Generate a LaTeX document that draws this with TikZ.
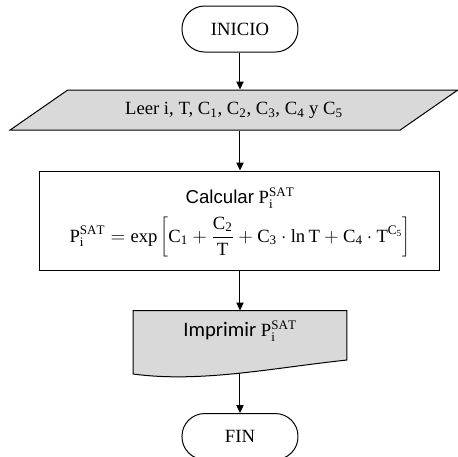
\documentclass[tikz,border=0pt]{standalone}
\usepackage{fontspec}
\setmainfont{Liberation Serif}
\newfontfamily\arialf{Liberation Sans}
\newfontfamily\calibrif{Carlito}
\usetikzlibrary{positioning, arrows.meta, shapes.geometric, backgrounds}
\definecolor{boxgray}{HTML}{D9D9D9}

\begin{document}
\begin{tikzpicture}[
  node distance=30pt,
  font=\fontsize{14}{16}\selectfont,
  term/.style={rectangle, draw, line width=0.75pt, rounded corners=17pt,
               minimum width=87pt, minimum height=34.5pt},
  inbox/.style={trapezium, trapezium left angle=23.5, trapezium right angle=156.5,
                trapezium stretches=true, draw, line width=0.75pt, fill=boxgray,
                minimum width=336pt, minimum height=30pt, inner sep=0pt},
  proc/.style={rectangle, draw, line width=0.75pt, minimum width=300pt,
               minimum height=74.25pt, align=center},
  outbox/.style={rectangle, minimum width=159.75pt, inner ysep=0pt,
                 text height=19.5pt, text depth=17.25pt},
  arr/.style={-{Triangle[length=6pt, width=5.5pt]}, line width=0.75pt}
]
  \useasboundingbox (-180pt,21.75pt) rectangle (163.5pt,-321pt);

  \node[term] (inicio) {INICIO};
  \node[inbox, below=27.75pt of inicio, xshift=-4.5pt] (leer)
    {Leer i, T, C\textsubscript{1}, C\textsubscript{2}, C\textsubscript{3}, C\textsubscript{4} y C\textsubscript{5}};
  \node[proc, below=of leer, xshift=4.5pt, text depth=8pt] (calc)
    {{\arialf Calcular} $\mathrm{P_i^{SAT}}$\\[5pt]
     $\displaystyle \mathrm{P_i^{SAT}} = \exp\left[\mathrm{C_1} + \frac{\mathrm{C_2}}{\mathrm{T}}
      + \mathrm{C_3}\cdot\ln\mathrm{T} + \mathrm{C_4}\cdot\mathrm{T^{C_5}}\right]$};
  \node[outbox, below=of calc] (impr)
    {{\calibrif\fontsize{15.5}{17}\selectfont Imprimir} $\mathrm{P_i^{SAT}}$};
  \node[term, below=39.75pt of impr] (fin) {FIN};

  % document outline behind the text
  \begin{scope}[on background layer]
    \draw[line width=0.75pt, fill=boxgray] (impr.north west) -- (impr.north east)
      -- (impr.south east)
      .. controls +(-56.25pt,-6pt) and +(51pt,-6.75pt) .. ([yshift=-10.5pt]impr.south west)
      coordinate[pos=0.5] (imprwave) -- cycle;
  \end{scope}

  \draw[arr] (inicio.south) -- (inicio.south |- leer.north);
  \draw[arr] (calc.north |- leer.south) -- (calc.north);
  \draw[arr] (calc.south) -- (impr.north);
  \draw[arr] (imprwave -| fin.north) -- (fin.north);
\end{tikzpicture}
\end{document}
